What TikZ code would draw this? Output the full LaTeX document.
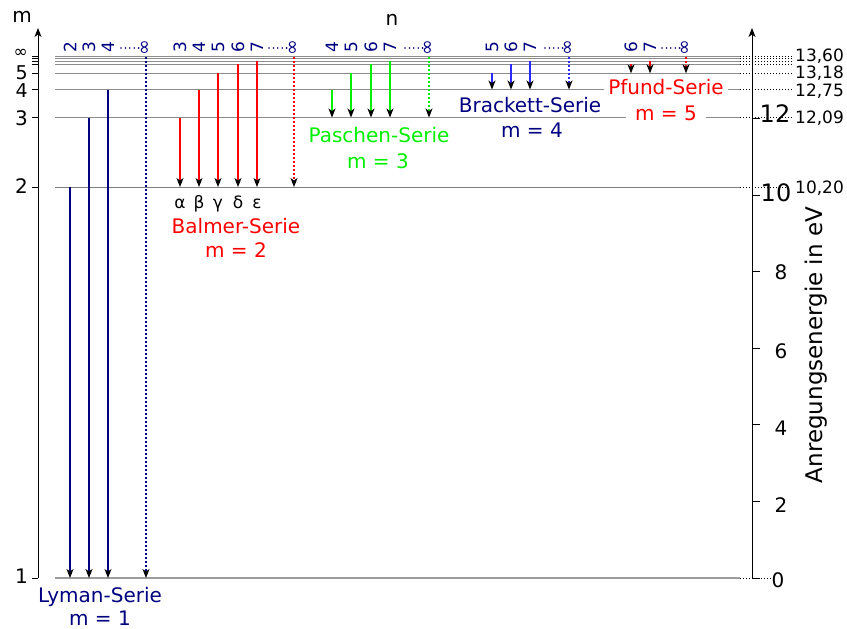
\documentclass[tikz,border=0pt]{standalone}
\usepackage{fontspec}
\setmainfont{DejaVu Sans}
\usetikzlibrary{arrows.meta}
\definecolor{navy}{HTML}{000080}
\definecolor{lred}{HTML}{FF0000}
\definecolor{lgreen}{HTML}{00F000}
\definecolor{lblue}{HTML}{2A2AFF}
\definecolor{lvl}{HTML}{8C8C8C}
\begin{document}
\begin{tikzpicture}[x=1pt,y=-1pt,
  trans/.style={line width=1.05pt,-{Stealth[black,length=9pt,width=7pt,inset=2.5pt]}},
  limit/.style={trans,dash pattern=on 2pt off 2pt},
  level/.style={draw=lvl,line width=1.3pt},
  guide/.style={black,line width=0.8pt,dash pattern=on 1pt off 2pt},
  axis/.style={black,line width=1pt},
  tick/.style={black,line width=0.9pt},
  toplab/.style={rotate=90,text=navy,font=\fontsize{17}{17}\selectfont,inner sep=0pt},
  inflab/.style={rotate=90,text=navy,font=\fontsize{19}{19}\selectfont,inner sep=0pt},
  topdots/.style={navy,line width=1.8pt,line cap=round,dash pattern=on 0pt off 4.4pt},
  series/.style={font=\fontsize{20}{24}\selectfont,anchor=base,inner sep=0pt},
  mlab/.style={font=\fontsize{20}{24}\selectfont,anchor=base east,inner sep=0pt},
  elab/.style={font=\fontsize{17}{20}\selectfont,anchor=base west,inner sep=0pt},
  big/.style={font=\fontsize{24}{28}\selectfont,anchor=base,inner sep=0pt},
  mid/.style={font=\fontsize{20}{24}\selectfont,anchor=base,inner sep=0pt},
  greek/.style={font=\fontsize{17}{20}\selectfont,anchor=base,inner sep=0pt}]
\useasboundingbox (0,0) rectangle (847,629);
\def\yA{578}\def\yB{187}\def\yC{117.5}\def\yD{89.5}\def\yE{73.3}
\def\yF{64.3}\def\yG{61.2}\def\yH{58.8}\def\yI{56.7}

% energy levels
\foreach \y/\n in {\yC/C,\yD/D,\yE/E,\yF/F,\yG/G,\yH/H,\yI/I}{
  \coordinate (lv\n-l) at (55,\y);
  \coordinate (lv\n-r) at (740,\y);
  \coordinate (lv\n-g) at (793,\y);
  \draw[level] (lv\n-l) -- (lv\n-r);
}
\coordinate (lvB-l) at (55,\yB);
\coordinate (lvB-r) at (740,\yB);
\draw[draw=lvl!90!black,line width=0.95pt] (lvB-l) -- (lvB-r);
\coordinate (lvA-l) at (55,\yA);
\coordinate (lvA-r) at (740,\yA);
\coordinate (lvA-g) at (775,\yA);
\draw[draw=lvl!85,line width=2.2pt] (lvA-l) -- (lvA-r);

% dotted guides to the energy values
\foreach \n in {C,D,E,F,G,H,I}{\draw[guide] (lv\n-r) -- (lv\n-g);}
\coordinate (lvB-g) at (790,\yB);
\draw[guide] (lvB-r) -- (lvB-g);
\draw[guide] (lvA-r) -- (lvA-g);

% left axis (m)
\coordinate (la-b) at (38,\yA);
\coordinate (la-t) at (38,28);
\draw[axis,-{Stealth[length=9pt,width=7pt,inset=2.5pt]}] (la-b) -- (la-t);
\foreach \y in {\yA,\yB,\yC,\yD,\yE,\yF,\yG,\yH,\yI}{\draw[tick] (32,\y) -- (38,\y);}
\node[font=\fontsize{20}{24}\selectfont,anchor=base,inner sep=0pt] (mlabel) at (22,23) {m};
\node[mlab] (m1) at (28,583) {1};
\node[mlab] (m2) at (28,193) {2};
\node[mlab] (m3) at (28,125) {3};
\node[mlab,font=\fontsize{19}{22}\selectfont] (m4) at (28,97) {4};
\node[mlab,font=\fontsize{19}{22}\selectfont] (m5) at (28,79) {5};
\node[font=\fontsize{17}{20}\selectfont,anchor=base east,inner sep=0pt] (minf) at (28,57) {∞};

% right axis (energy)
\coordinate (ra-b) at (752,\yA);
\coordinate (ra-t) at (752,28);
\draw[axis,-{Stealth[length=9pt,width=7pt,inset=2.5pt]}] (ra-b) -- (ra-t);
\foreach \e in {0,2,4,6,8,10,12}{\draw[tick] (752,{578-38.3*\e}) -- (760,{578-38.3*\e});}
\node[mid] (e0) at (778,587) {0};
\node[mid] (e2) at (781,512) {2};
\node[mid] (e4) at (781,435) {4};
\node[mid] (e6) at (781,358) {6};
\node[mid] (e8) at (781,279) {8};
\node[big] (e10) at (776,201) {10};
\node[big] (e12) at (775,122) {12};
\node[font=\fontsize{23}{26}\selectfont,rotate=90,inner sep=0pt] (eaxis) at (816,345) {Anregungsenergie in eV};

% energy values
\node[elab] (v1360) at (795,61) {13,60};
\node[elab] (v1318) at (795,78) {13,18};
\node[elab] (v1275) at (795,96) {12,75};
\node[elab] (v1209) at (795,123) {12,09};
\node[elab] (v1020) at (795,193) {10,20};

% n label
\node[font=\fontsize{20}{24}\selectfont,anchor=base,inner sep=0pt] (nlabel) at (392,25) {n};

% Lyman series
\foreach \x/\y/\l in {70/\yB/2,89/\yC/3,108/\yD/4}{
  \coordinate (ly\l-t) at (\x,\y); \coordinate (ly\l-b) at (\x,\yA);
  \draw[trans,navy] (ly\l-t) -- (ly\l-b);
  \node[toplab] (lyl\l) at (\x,47) {\l};
}
\coordinate (lyi-t) at (146,\yI); \coordinate (lyi-b) at (146,\yA);
\draw[limit,navy] (lyi-t) -- (lyi-b);
\node[inflab] (lyli) at (146,47.5) {∞};
\draw[topdots] (121,48) -- (139,48);
\node[series,text=navy] (lyman) at (100,602) {Lyman-Serie};
\node[series,text=navy] (lymanm) at (100,625) {m = 1};

% Balmer series
\foreach \x/\y/\l/\g in {180/\yC/3/α,199/\yD/4/β,218/\yE/5/γ,238/\yF/6/δ,257/\yG/7/ε}{
  \coordinate (ba\l-t) at (\x,\y); \coordinate (ba\l-b) at (\x,\yB);
  \draw[trans,lred] (ba\l-t) -- (ba\l-b);
  \node[toplab] (bal\l) at (\x,47) {\l};
  \node[greek] (bag\l) at (\x,208) {\g};
}
\coordinate (bai-t) at (294,\yI); \coordinate (bai-b) at (294,\yB);
\draw[limit,lred] (bai-t) -- (bai-b);
\node[inflab] (bali) at (294,47.5) {∞};
\draw[topdots] (269,48) -- (287,48);
\node[series,text=lred] (balmer) at (236,233) {Balmer-Serie};
\node[series,text=lred] (balmerm) at (236,257) {m = 2};

% Paschen series
\foreach \x/\y/\l in {332/\yD/4,351/\yE/5,371/\yF/6,390/\yG/7}{
  \coordinate (pa\l-t) at (\x,\y); \coordinate (pa\l-b) at (\x,\yC);
  \draw[trans,lgreen] (pa\l-t) -- (pa\l-b);
  \node[toplab] (pal\l) at (\x,47) {\l};
}
\coordinate (pai-t) at (429,\yI); \coordinate (pai-b) at (429,\yC);
\draw[limit,lgreen] (pai-t) -- (pai-b);
\node[inflab] (pali) at (429,47.5) {∞};
\draw[topdots] (405,48) -- (423,48);
\node[series,text=lgreen] (paschen) at (379,142) {Paschen-Serie};
\node[series,text=lgreen] (paschenm) at (378,168) {m = 3};

% Brackett series
\foreach \x/\y/\l in {492/\yE/5,511/\yF/6,530/\yG/7}{
  \coordinate (br\l-t) at (\x,\y); \coordinate (br\l-b) at (\x,\yD);
  \draw[trans,lblue] (br\l-t) -- (br\l-b);
  \node[toplab] (brl\l) at (\x,47) {\l};
}
\coordinate (bri-t) at (569,\yI); \coordinate (bri-b) at (569,\yD);
\draw[limit,lblue] (bri-t) -- (bri-b);
\node[inflab] (brli) at (569,47.5) {∞};
\draw[topdots] (545,48) -- (563,48);
\node[series,text=navy] (brackett) at (530,112) {Brackett-Serie};
\node[series,text=navy] (brackettm) at (532,137) {m = 4};

% Pfund series
\foreach \x/\y/\l in {631/\yF/6,650/\yG/7}{
  \coordinate (pf\l-t) at (\x,\y); \coordinate (pf\l-b) at (\x,\yE);
  \draw[trans,lred] (pf\l-t) -- (pf\l-b);
  \node[toplab] (pfl\l) at (\x,47) {\l};
}
\coordinate (pfi-t) at (686,\yI); \coordinate (pfi-b) at (686,\yE);
\draw[limit,lred] (pfi-t) -- (pfi-b);
\node[inflab] (pfli) at (686,47.5) {∞};
\draw[topdots] (662,48) -- (680,48);
\node[series,text=lred,fill=white,inner xsep=4pt,inner ysep=2pt] (pfund) at (666,94) {Pfund-Serie};
\node[series,text=lred,fill=white,inner xsep=9pt,inner ysep=2pt] (pfundm) at (666,120) {m = 5};
\end{tikzpicture}
\end{document}
